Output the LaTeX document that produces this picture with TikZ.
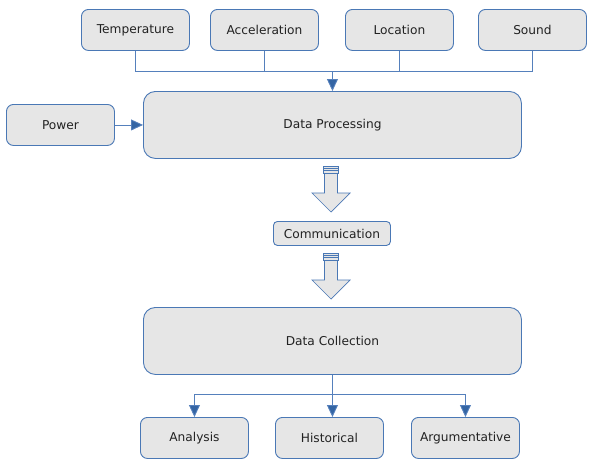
\documentclass[tikz,border=0pt]{standalone}
\usepackage{fontspec}
\setmainfont{DejaVu Sans}
\usetikzlibrary{arrows.meta,calc}
\definecolor{boxfill}{HTML}{E6E6E6}
\definecolor{boxline}{HTML}{4A78B5}
\definecolor{conline}{HTML}{5580BC}
\definecolor{tipcol}{HTML}{3465A4}
\definecolor{txt}{HTML}{222222}
\begin{document}
\begin{tikzpicture}[x=1pt,y=-1pt,
  every node/.style={font=\fontsize{12.2}{14}\selectfont,text=txt},
  sbox/.style={draw=boxline,fill=boxfill,rounded corners=7pt,line width=0.9pt,minimum width=108pt,minimum height=41pt,inner sep=0pt,anchor=north west},
  bbox/.style={draw=boxline,fill=boxfill,rounded corners=12pt,line width=0.9pt,minimum width=378pt,minimum height=67pt,inner sep=0pt,anchor=north west},
  cbox/.style={draw=boxline,fill=boxfill,rounded corners=4pt,line width=0.9pt,minimum width=117pt,minimum height=24pt,inner sep=0pt,anchor=north west},
  con/.style={draw=conline,line width=0.9pt},
  arr/.style={con,-{Triangle[length=12pt,width=11pt,fill=tipcol]}},
  blockarrow/.style={draw=boxline,fill=boxfill,line width=0.7pt,line join=miter},
  stripe/.style={draw=boxline,fill=boxfill,line width=0.55pt}
]
\useasboundingbox (0,0) rectangle (596,466);
% top sensors
\node[sbox] (temp) at (81,9) {Temperature};
\node[sbox] (acc) at (210,9) {Acceleration};
\node[sbox] (loc) at (345,9) {Location};
\node[sbox] (snd) at (478,9) {Sound};
\node[sbox] (pow) at (6,104) {Power};
\node[bbox] (dp) at (143,91) {Data Processing};
\node[cbox] (com) at (273,221) {Communication};
\node[bbox] (dc) at (143,307) {Data Collection};
\node[sbox] (ana) at (140,417) {Analysis};
\node[sbox] (his) at (275,417) {Historical};
\node[sbox] (arg) at (411,417) {Argumentative};
% bus
\coordinate (busT) at (temp.south |- 0,71);
\coordinate (busS) at (snd.south |- 0,71);
\coordinate (busM) at (dp.north |- 0,71);
\draw[con] (temp.south) -- (busT) -- (busS) -- (snd.south);
\draw[con] (acc.south) -- (acc.south |- busT);
\draw[con] (loc.south) -- (loc.south |- busT);
\draw[arr] (busM) -- (dp.north);
\draw[arr] (pow.east) -- (dp.west);
% bottom branch
\coordinate (brL) at (ana.north |- 0,394);
\coordinate (brR) at (arg.north |- 0,394);
\draw[con] (brL) -- (brR);
\draw[arr] (dc.south) -- (his.north -| dc.south);
\draw[arr] (brL) -- (ana.north);
\draw[arr] (brR) -- (arg.north);
% block arrows
\foreach \y/\nm in {166/ba1,253/ba2}{
  \coordinate (\nm) at (331,\y);
  \draw[blockarrow] ($(\nm)+(-6.5,7)$) -- ($(\nm)+(6.5,7)$) -- ($(\nm)+(6.5,27)$) -- ($(\nm)+(19,27)$) -- ($(\nm)+(0,46)$) -- ($(\nm)+(-19,27)$) -- ($(\nm)+(-6.5,27)$) -- cycle;
  \draw[stripe] ($(\nm)+(-7.5,0)$) rectangle ($(\nm)+(7.5,2.3)$);
  \draw[stripe] ($(\nm)+(-7.5,2.3)$) rectangle ($(\nm)+(7.5,4.6)$);
  \draw[stripe] ($(\nm)+(-7.5,4.6)$) rectangle ($(\nm)+(7.5,7)$);
}
\end{tikzpicture}
\end{document}
